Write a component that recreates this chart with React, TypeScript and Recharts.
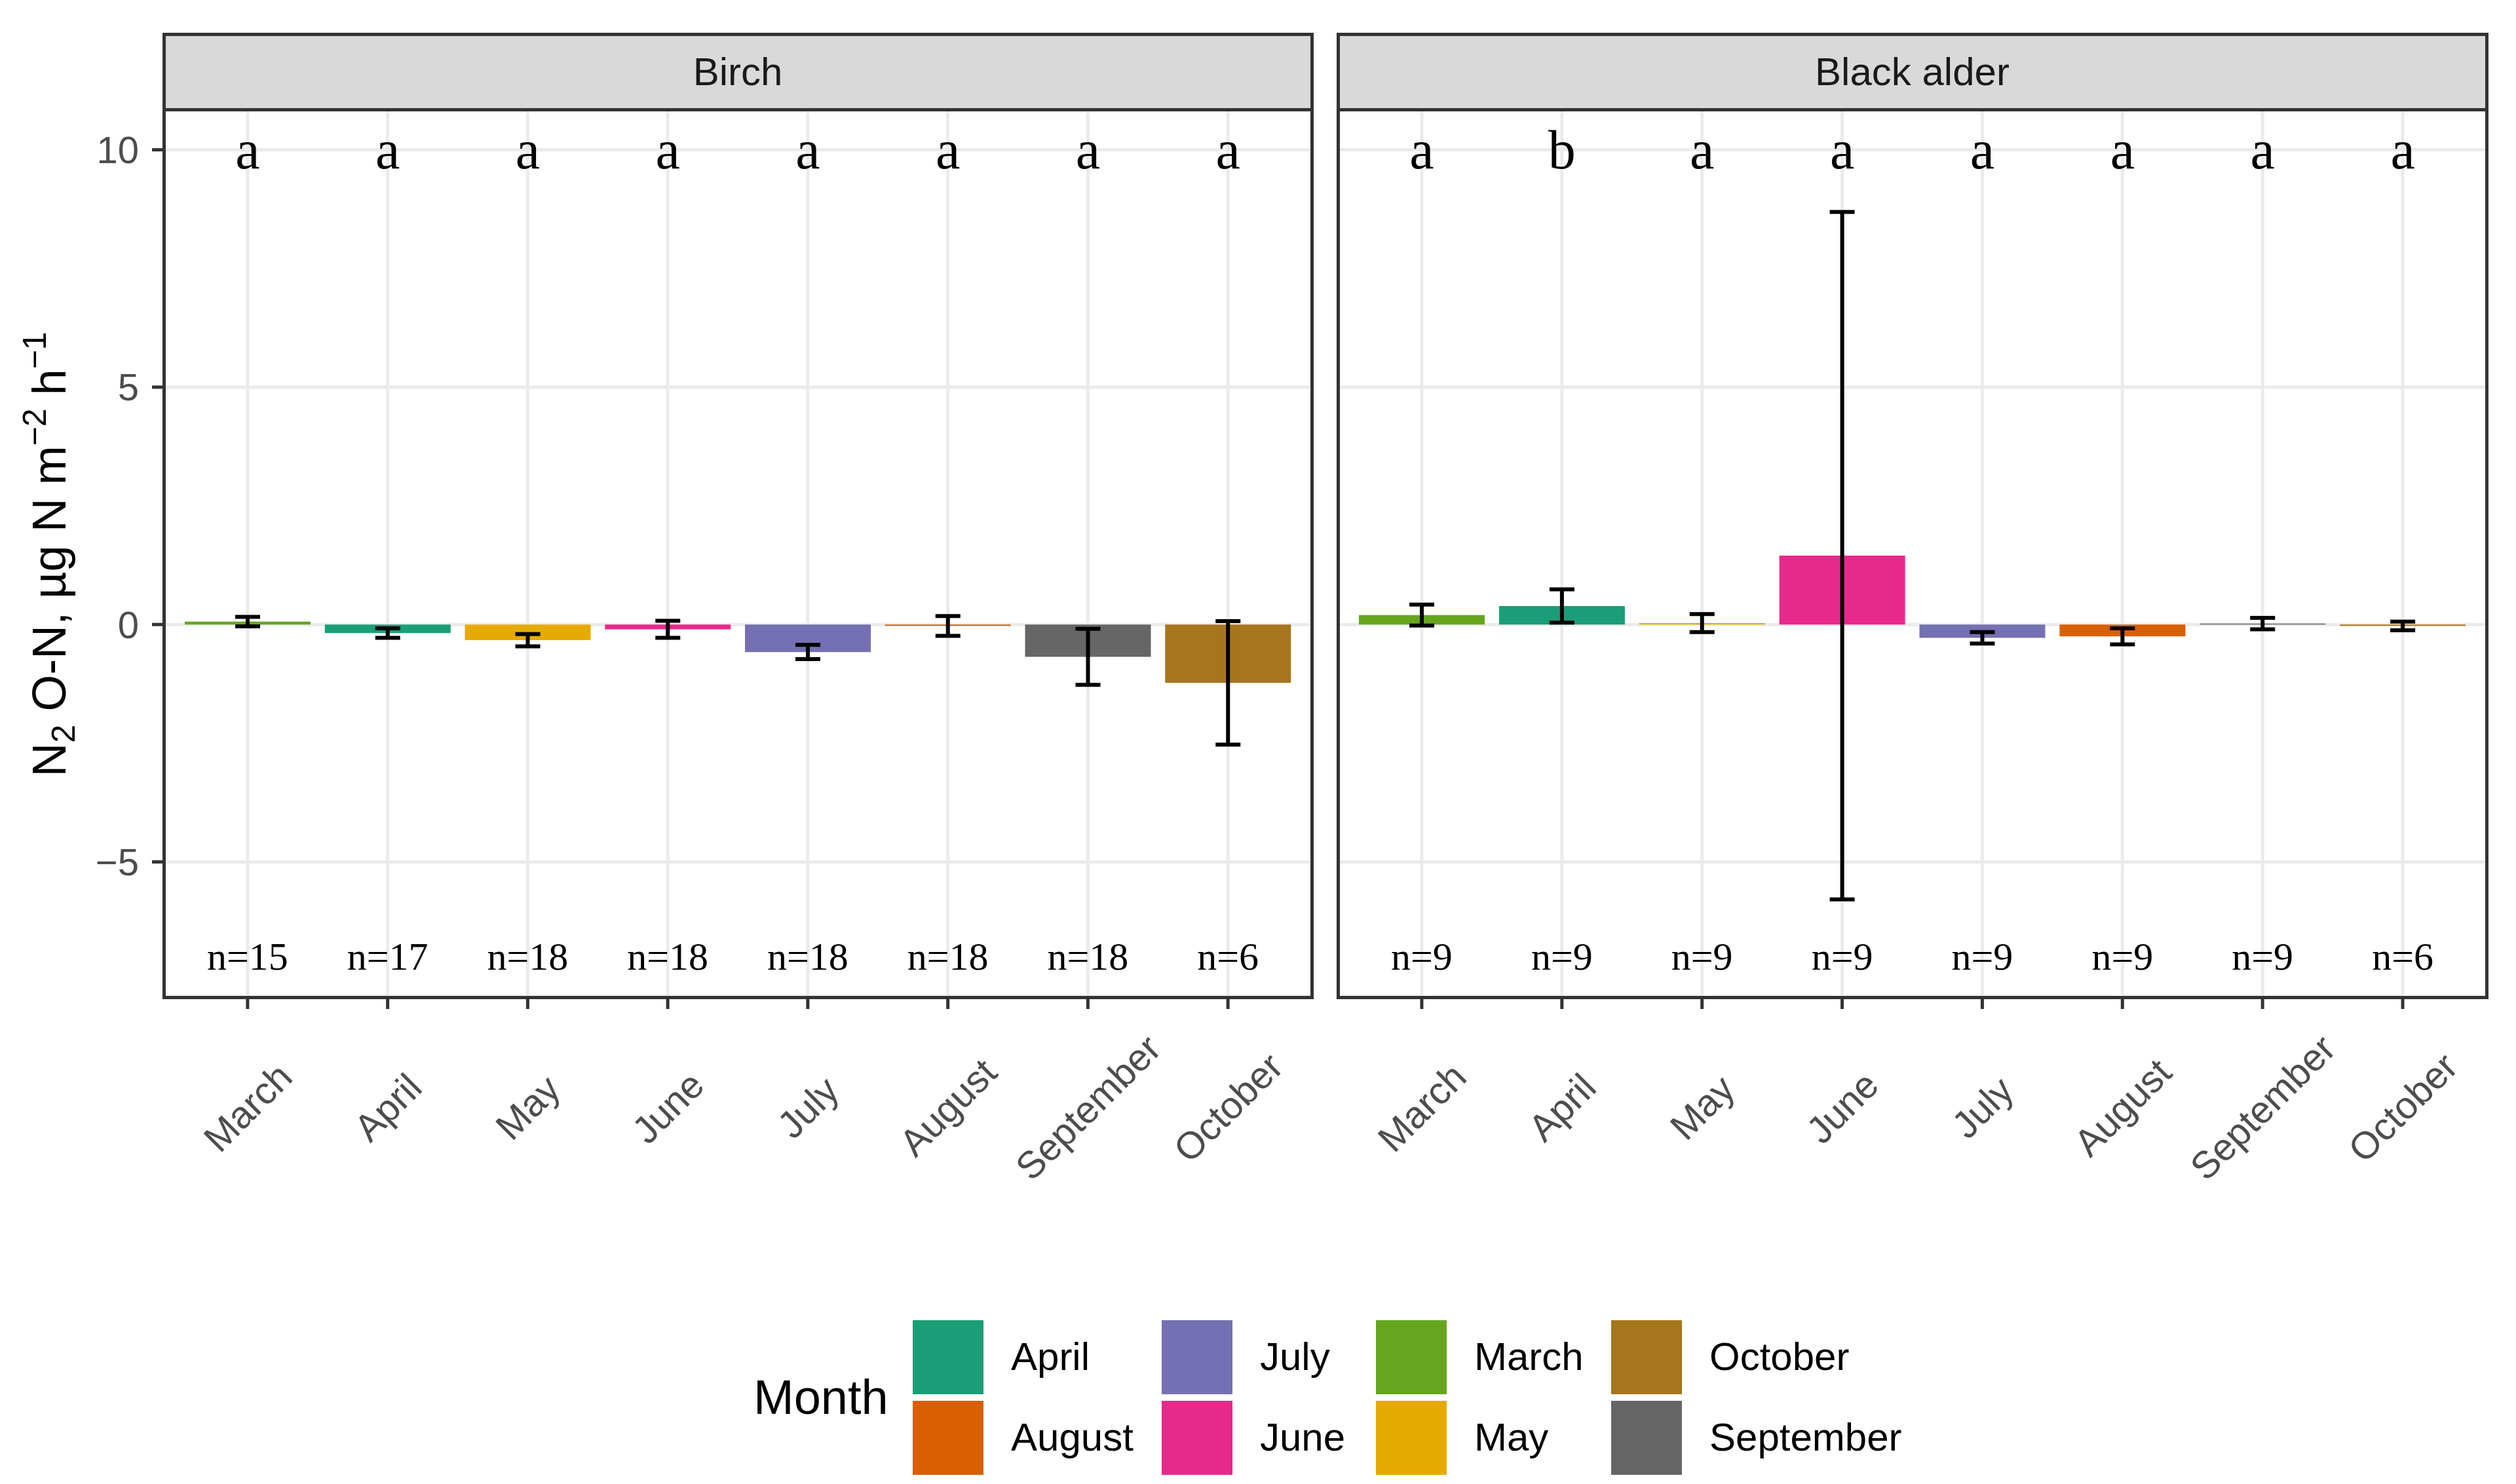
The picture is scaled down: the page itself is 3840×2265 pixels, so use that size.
import React from 'react';
import {
  ComposedChart,
  Bar,
  Line,
  XAxis,
  YAxis,
  CartesianGrid,
  ErrorBar,
  Cell,
  LabelList,
} from 'recharts';

// ---------- data ----------
const months = ['March', 'April', 'May', 'June', 'July', 'August', 'September', 'October'];

const birchMean = [0.06, -0.18, -0.33, -0.1, -0.58, -0.03, -0.68, -1.23];
const birchErr = [0.1, 0.1, 0.13, 0.18, 0.15, 0.21, 0.59, 1.3];
const birchN = [15, 17, 18, 18, 18, 18, 18, 6];
const birchLetters = ['a', 'a', 'a', 'a', 'a', 'a', 'a', 'a'];

const alderMean = [0.2, 0.39, 0.03, 1.45, -0.28, -0.25, 0.02, -0.03];
const alderErr = [0.22, 0.35, 0.19, 7.24, 0.12, 0.17, 0.12, 0.09];
const alderN = [9, 9, 9, 9, 9, 9, 9, 6];
const alderLetters = ['a', 'b', 'a', 'a', 'a', 'a', 'a', 'a'];

const legendOrder = ['April', 'August', 'July', 'June', 'March', 'May', 'October', 'September'];
const monthColors: Record<string, string> = {
  April: '#1B9E77',
  August: '#D95F02',
  July: '#7570B3',
  June: '#E7298A',
  March: '#66A61E',
  May: '#E6AB02',
  October: '#A6761D',
  September: '#666666',
};

const yTicks = [-5, 0, 5, 10];
const yMinorTicks = [-7.5, -2.5, 2.5, 7.5];
const yDomain: [number, number] = [-7.85, 10.85];
const letterLevel = 10;
const nLevel = -7;

const buildRows = (mean: number[], err: number[], n: number[], letters: string[]) =>
  months.map((m, i) => ({
    month: m,
    value: mean[i],
    err: err[i],
    letter: letters[i],
    nText: 'n=' + n[i],
    letterY: letterLevel,
    nY: nLevel,
  }));

const birchRows = buildRows(birchMean, birchErr, birchN, birchLetters);
const alderRows = buildRows(alderMean, alderErr, alderN, alderLetters);

// ---------- layout ----------
const PLOT_TOP = 167;
const PLOT_BOTTOM = 1522;
const STRIP_TOP = 52;
const LABEL_Y = 1690;
const CHART_H = 1900;
const SANS = '"Liberation Sans", Arial, Helvetica, sans-serif';
const SERIF = '"Liberation Serif", "Times New Roman", serif';

const XTick = (props: any) => {
  const { x, payload } = props;
  return (
    <text
      x={x}
      y={LABEL_Y}
      transform={`rotate(-45, ${x}, ${LABEL_Y})`}
      textAnchor="middle"
      dominantBaseline="central"
      fontSize={58}
      fill="#4D4D4D"
      fontFamily={SANS}
    >
      {payload.value}
    </text>
  );
};

const LetterLabel = (props: any) => (
  <text
    x={props.x}
    y={props.y}
    textAnchor="middle"
    dominantBaseline="central"
    fontSize={84}
    fontFamily={SERIF}
    fill="#000"
  >
    {props.value}
  </text>
);

const NLabel = (props: any) => (
  <text
    x={props.x}
    y={props.y}
    textAnchor="middle"
    dominantBaseline="central"
    fontSize={60}
    fontFamily={SERIF}
    fill="#000"
  >
    {props.value}
  </text>
);

type PanelProps = {
  rows: any[];
  left: number;
  width: number;
  plotLeft: number;
  plotRight: number;
  showY: boolean;
};

const Panel = ({ rows, left, width, plotLeft, plotRight, showY }: PanelProps) => {
  const yAxisWidth = showY ? 150 : 0;
  const marginLeft = plotLeft - left - yAxisWidth;
  const marginRight = left + width - plotRight;
  const xAxisHeight = 300;
  return (
    <div style={{ position: 'absolute', left, top: 0 }}>
      <ComposedChart
        width={width}
        height={CHART_H}
        data={rows}
        margin={{ top: PLOT_TOP, left: marginLeft, right: marginRight, bottom: CHART_H - PLOT_BOTTOM - xAxisHeight }}
      >
        <CartesianGrid stroke="#EBEBEB" strokeWidth={5} />
        <CartesianGrid yAxisId="minor" stroke="#F2F2F2" strokeWidth={2.5} vertical={false} />
        <XAxis
          dataKey="month"
          padding={{ left: 21, right: 21 }}
          height={xAxisHeight}
          axisLine={false}
          tickLine={{ stroke: '#333333', strokeWidth: 5 }}
          tickSize={18}
          tick={<XTick />}
          interval={0}
        />
        <YAxis
          domain={yDomain}
          ticks={yTicks}
          allowDataOverflow
          hide={!showY}
          width={yAxisWidth}
          axisLine={false}
          tickLine={{ stroke: '#333333', strokeWidth: 5 }}
          tickSize={18}
          tickMargin={20}
          tick={{ fill: '#4D4D4D', fontSize: 58, fontFamily: SANS }}
          tickFormatter={(v: number) => String(v).replace('-', '\u2212')}
        />
        <YAxis
          yAxisId="minor"
          orientation="right"
          domain={yDomain}
          ticks={yMinorTicks}
          allowDataOverflow
          width={0}
          axisLine={false}
          tickLine={false}
          tick={false}
        />
        <Bar dataKey="value" barSize={192} isAnimationActive={false}>
          {rows.map((r) => (
            <Cell key={r.month} fill={monthColors[r.month]} />
          ))}
          <ErrorBar
            dataKey="err"
            direction="y"
            width={19}
            strokeWidth={6}
            stroke="#000000"
            isAnimationActive={false}
          />
        </Bar>
        <Line dataKey="letterY" stroke="none" dot={false} activeDot={false} isAnimationActive={false}>
          <LabelList dataKey="letter" content={<LetterLabel />} />
        </Line>
        <Line dataKey="nY" stroke="none" dot={false} activeDot={false} isAnimationActive={false}>
          <LabelList dataKey="nText" content={<NLabel />} />
        </Line>
      </ComposedChart>
    </div>
  );
};

const Strip = ({ left, right, label }: { left: number; right: number; label: string }) => (
  <div
    style={{
      position: 'absolute',
      left: left - 2.5,
      top: STRIP_TOP - 2.5,
      width: right - left + 5,
      height: PLOT_TOP - STRIP_TOP + 5,
      boxSizing: 'border-box',
      border: '5px solid #333333',
      background: '#D9D9D9',
      display: 'flex',
      alignItems: 'center',
      justifyContent: 'center',
      fontFamily: SANS,
      fontSize: 60,
      color: '#1A1A1A',
    }}
  >
    {label}
  </div>
);

const Border = ({ left, right }: { left: number; right: number }) => (
  <div
    style={{
      position: 'absolute',
      left: left - 2.5,
      top: PLOT_TOP - 2.5,
      width: right - left + 5,
      height: PLOT_BOTTOM - PLOT_TOP + 5,
      boxSizing: 'border-box',
      border: '5px solid #333333',
      pointerEvents: 'none',
    }}
  />
);

const legendCols = [1393, 1773, 2100, 2459];
const legendRows = [2015, 2138];

const Legend = () => (
  <>
    <div
      style={{
        position: 'absolute',
        left: 1150,
        top: 2133 - 45,
        height: 90,
        lineHeight: '90px',
        fontFamily: SANS,
        fontSize: 74,
        color: '#000',
      }}
    >
      Month
    </div>
    {legendOrder.map((m, i) => {
      const col = Math.floor(i / 2);
      const row = i % 2;
      const x = legendCols[col];
      const y = legendRows[row];
      return (
        <React.Fragment key={m}>
          <div
            style={{
              position: 'absolute',
              left: x,
              top: y,
              width: 108,
              height: 113,
              background: monthColors[m],
            }}
          />
          <div
            style={{
              position: 'absolute',
              left: x + 150,
              top: y + 56 - 40,
              height: 80,
              lineHeight: '80px',
              fontFamily: SANS,
              fontSize: 60,
              color: '#000',
              whiteSpace: 'nowrap',
            }}
          >
            {m}
          </div>
        </React.Fragment>
      );
    })}
  </>
);

const YTitle = () => (
  <svg
    width={200}
    height={1700}
    style={{ position: 'absolute', left: 0, top: 0 }}
  >
    <text
      x={100}
      y={846}
      transform="rotate(-90, 100, 846)"
      textAnchor="middle"
      fontSize={72}
      fontFamily={SANS}
      fill="#000"
    >
      N
      <tspan dy={14} fontSize={50}>2</tspan>
      <tspan dy={-14}> O-N, µg N m</tspan>
      <tspan dy={-30} fontSize={50}>{'\u22122'}</tspan>
      <tspan dy={30}> h</tspan>
      <tspan dy={-30} fontSize={50}>{'\u22121'}</tspan>
    </text>
  </svg>
);

export default function App() {
  return (
    <div
      style={{
        position: 'absolute',
        left: 0,
        top: 0,
        width: 3840,
        height: 2265,
        background: '#FFFFFF',
        overflow: 'hidden',
      }}
    >
      <Panel rows={birchRows} left={0} width={2022} plotLeft={250} plotRight={2002} showY />
      <Panel rows={alderRows} left={2022} width={1818} plotLeft={2042} plotRight={3795} showY={false} />
      <Border left={250} right={2002} />
      <Border left={2042} right={3795} />
      <Strip left={250} right={2002} label="Birch" />
      <Strip left={2042} right={3795} label="Black alder" />
      <YTitle />
      <Legend />
    </div>
  );
}
